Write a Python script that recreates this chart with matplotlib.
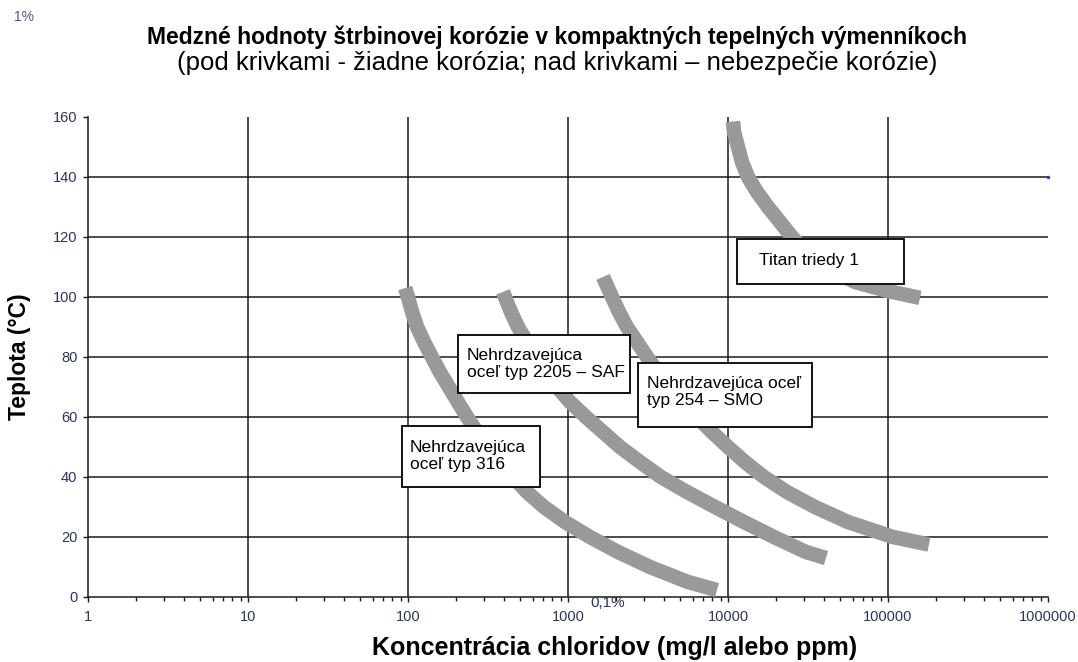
import matplotlib
matplotlib.use('Agg')
import matplotlib.pyplot as plt
from matplotlib.patches import Rectangle
from matplotlib.ticker import LogLocator, NullFormatter

plt.rcParams['font.family'] = ['Liberation Sans', 'DejaVu Sans']

# limit curves: chloride (mg/l) vs temperature (C)
x_316 = [96, 100, 106, 114, 126, 141, 158, 180, 205, 234, 270, 321, 381, 453,
         554, 708, 958, 1372, 2054, 3254, 5623, 8536]
y_316 = [103, 100, 95, 90, 85, 80, 75, 70, 65, 60, 55, 50, 45, 40,
         35, 30, 25, 20, 15, 10, 5, 2.3]

x_2205 = [392, 404, 440, 487, 554, 631, 729, 854, 1029, 1295, 1655, 2113, 2818,
          3811, 5545, 8297, 12589, 19387, 30726, 40973]
y_2205 = [101.7, 100, 95, 90, 85, 80, 75, 70, 65, 60, 55, 50, 45,
          40, 35, 30, 25, 20, 15, 13]

x_smo = [1655, 1884, 2083, 2337, 2700, 3118, 3652, 4339, 5233, 6400, 7943, 10000,
         12764, 16788, 23373, 34967, 56234, 107400, 180300]
y_smo = [106.7, 100, 95, 90, 85, 80, 75, 70, 65, 60, 55, 50,
         45, 40, 35, 30, 25, 20, 17.5]

x_ti = [10746, 10902, 11548, 12232, 13335, 15183, 17783, 21135, 25119, 30726,
        40386, 62230, 100000, 158489]
y_ti = [158.5, 155, 150, 145, 140, 135, 130, 125, 120, 115,
        110, 105, 102, 99.7]

x_ticks = [1, 10, 100, 1000, 10000, 100000, 1000000]
x_labels = ['1', '10', '100', '1000', '10000', '100000', '1000000']
y_ticks = [0, 20, 40, 60, 80, 100, 120, 140, 160]

W, H = 1078, 662
fig = plt.figure(figsize=(W / 100, H / 100), dpi=100)
ax = fig.add_axes([88 / W, 1 - 597 / H, 960 / W, 480 / H])

tick_col = '#2a3560'
line_col = '#1a1a1a'
band_col = '#999999'

ax.set_xscale('log')
ax.set_xlim(1, 1e6)
ax.set_ylim(0, 160)
ax.set_xticks(x_ticks)
ax.set_xticklabels(x_labels)
ax.xaxis.set_minor_locator(LogLocator(base=10, subs=range(2, 10), numticks=20))
ax.xaxis.set_minor_formatter(NullFormatter())
ax.set_yticks(y_ticks)

ax.tick_params(axis='both', which='major', direction='out', length=3.6, width=1.0,
               color=line_col, labelsize=10.5, labelcolor=tick_col)
ax.tick_params(axis='x', which='major', pad=6)
ax.tick_params(axis='y', which='major', pad=4)
ax.tick_params(axis='x', which='minor', direction='out', length=2.6, width=1.0, color=line_col)

for s in ['top', 'right']:
    ax.spines[s].set_visible(False)
for s in ['left', 'bottom']:
    ax.spines[s].set_color(line_col)
    ax.spines[s].set_linewidth(1.1)

ax.grid(True, which='major', color=line_col, linewidth=1.1)
ax.set_axisbelow(True)
xg = ax.xaxis.get_gridlines()
xg[0].set_visible(False)
xg[-1].set_visible(False)
yg = ax.yaxis.get_gridlines()
yg[0].set_visible(False)
yg[-1].set_visible(False)

for xs, ys in [(x_316, y_316), (x_2205, y_2205), (x_smo, y_smo), (x_ti, y_ti)]:
    ax.plot(xs, ys, color=band_col, linewidth=10.5, solid_capstyle='butt',
            solid_joinstyle='round', zorder=3)

# stray point at the right edge
ax.plot([1000000], [140], marker='o', markersize=1.5, color='#3a3aa0', clip_on=False, zorder=4)


def px2ax(px, py):
    return (px - 88) / 960, (597 - py) / 480


boxes = [
    ((402, 426, 540, 487), (410, 456), 'Nehrdzavejúca\noceľ typ 316'),
    ((458, 335, 630, 393), (467, 364), 'Nehrdzavejúca\noceľ typ 2205 – SAF'),
    ((638, 363, 812, 427), (647, 392), 'Nehrdzavejúca oceľ\ntyp 254 – SMO'),
    ((737, 239, 904, 284), (759, 261), 'Titan triedy 1'),
]
for (x0, y0, x1, y1), (tx, ty), txt in boxes:
    ax0, ay1 = px2ax(x0, y1)
    ax1_, ay0 = px2ax(x1, y0)
    ax.add_patch(Rectangle((ax0, ay1), ax1_ - ax0, ay0 - ay1, transform=ax.transAxes,
                           facecolor='white', edgecolor='black', linewidth=1.3, zorder=5))
    tax, tay = px2ax(tx, ty)
    ax.text(tax, tay, txt, transform=ax.transAxes, fontsize=12.5, ha='left', va='center',
            linespacing=1.15, color='black', zorder=6)

fig.text(557 / W, 1 - 37 / H,
         'Medzné hodnoty štrbinovej korózie v kompaktných tepelných výmenníkoch',
         ha='center', va='center', fontsize=16.5, fontweight='bold')
fig.text(557 / W, 1 - 63 / H,
         '(pod krivkami - žiadne korózia; nad krivkami – nebezpečie korózie)',
         ha='center', va='center', fontsize=18.5)
fig.text(615 / W, 1 - 648 / H, 'Koncentrácia chloridov (mg/l alebo ppm)',
         ha='center', va='center', fontsize=18, fontweight='bold')
fig.text(20 / W, 1 - 357 / H, 'Teplota (°C)', rotation=90,
         ha='center', va='center', fontsize=16.5, fontweight='bold')
fig.text(608 / W, 1 - 603 / H, '0,1%', ha='center', va='center', fontsize=11, color=tick_col)
fig.text(24 / W, 1 - 17 / H, '1%', ha='center', va='center', fontsize=10, color='#4a5a80')

fig.savefig('out.png', dpi=100)
